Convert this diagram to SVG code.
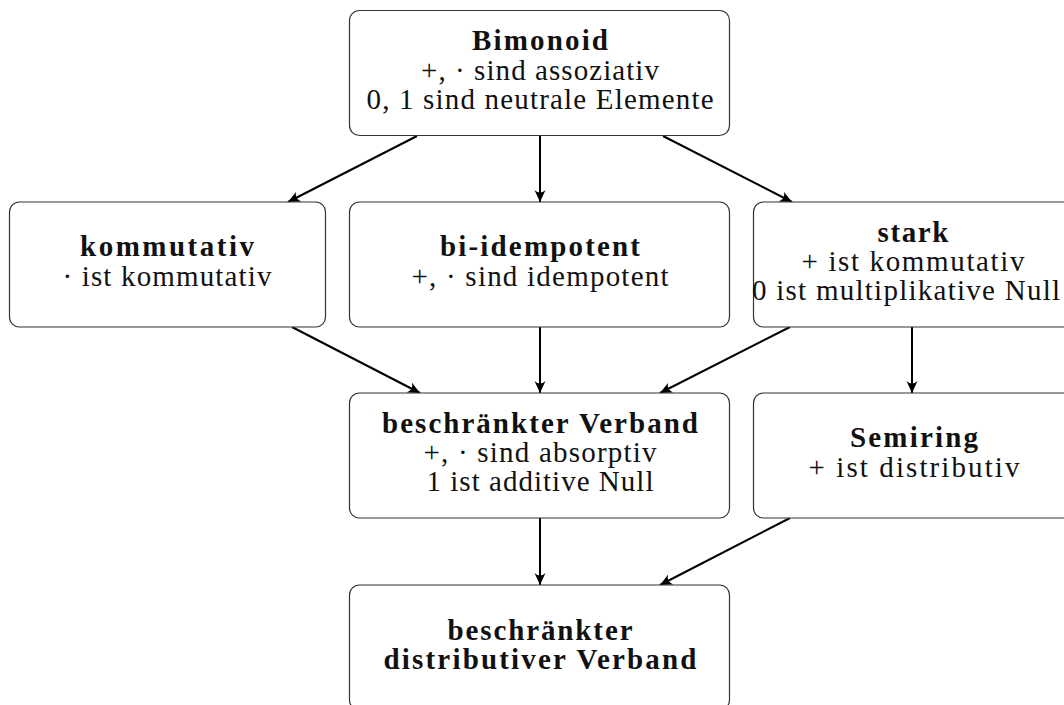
<svg xmlns="http://www.w3.org/2000/svg" width="1064" height="705" viewBox="0 0 1064 705">
<style>
.box{fill:#fff;stroke:#333;stroke-width:1.2}
text{font-family:"Liberation Serif","Times New Roman",serif;font-size:29px;fill:#111;text-anchor:middle}
.b{font-weight:bold}
.c{stroke:#000;stroke-width:2;fill:none;marker-end:url(#ah)}
</style>
<defs>
<marker id="ah" markerUnits="userSpaceOnUse" markerWidth="14" markerHeight="12" viewBox="-12 -6 14 12" refX="0" refY="0" orient="auto">
<path d="M0,0 L-12,-5.5 Q-7,0 -12,5.5 Z" fill="#000"/>
</marker>
</defs>
<rect width="1064" height="705" fill="#fff"/>
<g id="connectors">
<line class="c" x1="417" y1="136" x2="288" y2="202"/>
<line class="c" x1="540" y1="136" x2="540" y2="202"/>
<line class="c" x1="663" y1="136" x2="792" y2="202"/>
<line class="c" x1="292" y1="327" x2="420" y2="393"/>
<line class="c" x1="540" y1="327" x2="540" y2="393"/>
<line class="c" x1="790" y1="327" x2="660" y2="393"/>
<line class="c" x1="912" y1="327" x2="912" y2="393"/>
<line class="c" x1="540" y1="518" x2="540" y2="585"/>
<line class="c" x1="790" y1="518" x2="660" y2="585"/>
</g>
<g id="bimonoid">
<rect class="box" x="349.5" y="10.5" width="380" height="125" rx="10"/>
<text class="b" x="540" y="50" textLength="136">Bimonoid</text>
<text x="540" y="80" textLength="238">+, · sind assoziativ</text>
<text x="540" y="109" textLength="347">0, 1 sind neutrale Elemente</text>
</g>
<g id="kommutativ">
<rect class="box" x="9.5" y="202" width="316" height="125" rx="10"/>
<text class="b" x="167" y="256" textLength="174">kommutativ</text>
<text x="167" y="286" textLength="209">· ist kommutativ</text>
</g>
<g id="biidempotent">
<rect class="box" x="349.5" y="202" width="380" height="125" rx="10"/>
<text class="b" x="540" y="256" textLength="200">bi-idempotent</text>
<text x="540" y="286" textLength="257">+, · sind idempotent</text>
</g>
<g id="stark">
<rect class="box" x="753.5" y="202" width="330" height="125" rx="10"/>
<text class="b" x="913" y="242" textLength="71">stark</text>
<text x="913" y="271" textLength="223">+ ist kommutativ</text>
<text x="906" y="300" textLength="308">0 ist multiplikative Null</text>
</g>
<g id="verband">
<rect class="box" x="349.5" y="393" width="380" height="125" rx="10"/>
<text class="b" x="540" y="433" textLength="316">beschränkter Verband</text>
<text x="540" y="462" textLength="233">+, · sind absorptiv</text>
<text x="540" y="491" textLength="227">1 ist additive Null</text>
</g>
<g id="semiring">
<rect class="box" x="753.5" y="393" width="330" height="125" rx="10"/>
<text class="b" x="914" y="447" textLength="128">Semiring</text>
<text x="914" y="477" textLength="211">+ ist distributiv</text>
</g>
<g id="distributiv">
<rect class="box" x="349.5" y="585" width="380" height="125" rx="10"/>
<text class="b" x="540" y="640" textLength="185">beschränkter</text>
<text class="b" x="540" y="669" textLength="313">distributiver Verband</text>
</g>
</svg>
